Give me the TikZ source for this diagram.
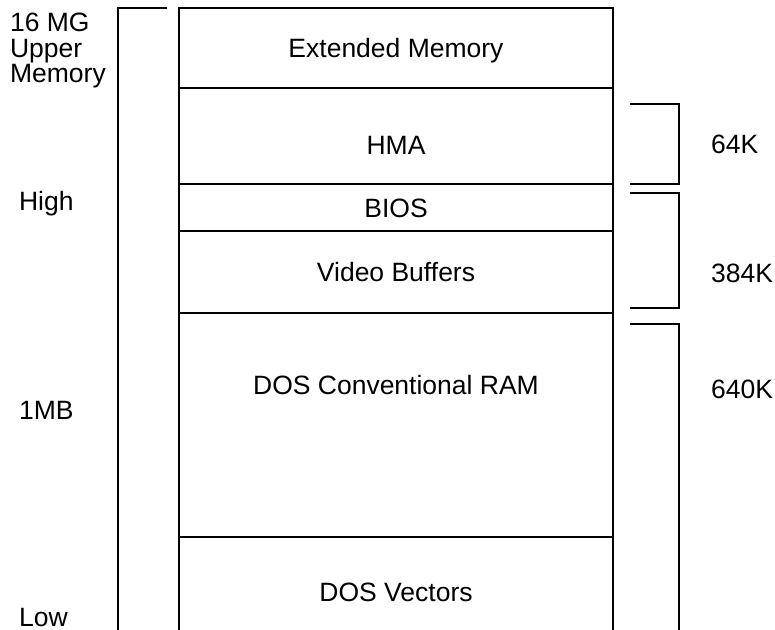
\documentclass[tikz,border=0pt]{standalone}
\usepackage{fontspec}
\setmainfont{Liberation Sans}
\usetikzlibrary{positioning}

\begin{document}
\begin{tikzpicture}[x=0.5pt, y=-0.5pt, line width=1.1pt, line join=miter,
    every node/.style={inner sep=0pt, font=\fontsize{13.25}{12.75}\selectfont}]
  \tikzstyle{region}=[anchor=base]
  \tikzstyle{side}=[anchor=base west]
  \useasboundingbox (0,0) rectangle (775,629);

  % Memory column and its region boundaries
  \draw (179,632) -- (179,8) -- (613,8) -- (613,632);
  \foreach \y in {88,184,231,313,537}
    \draw (179,\y) -- (613,\y);

  % Address bracket on the left
  \draw (167,8) -- (118,8) -- (118,632);

  % Size brackets on the right
  \draw (630,104) -- (679,104) -- (679,184) -- (630,184);
  \draw (630,193) -- (679,193) -- (679,308) -- (630,308);
  \draw (630,324) -- (679,324) -- (679,632);

  % Region names
  \node[region] (ext)   at (396,57)  {Extended Memory};
  \node[region] (hma)   at (396,154) {HMA};
  \node[region] (bios)  at (396,217) {BIOS};
  \node[region] (video) at (396,281) {Video Buffers};
  \node[region] (conv)  at (396,394) {DOS Conventional RAM};
  \node[region] (vect)  at (396,601) {DOS Vectors};

  % Addresses
  \node[anchor=north west, align=left] (upper) at (9,12) {16 MG\\Upper\\Memory};
  \node[side] (high) at (18,210) {High};
  \node[side] (mb)   at (18,419) {1MB};
  \node[side] (low)  at (18,626) {Low};

  % Sizes
  \node[side] (k64)  at (710,153) {64K};
  \node[side] (k384) at (710,282) {384K};
  \node[side] (k640) at (710,398) {640K};
\end{tikzpicture}
\end{document}
